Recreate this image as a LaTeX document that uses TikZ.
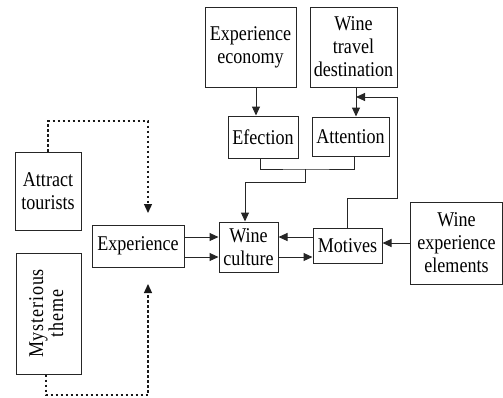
\documentclass[tikz,border=0pt]{standalone}
\usepackage{fontspec}
\setmainfont{Liberation Serif}[FakeStretch=0.86]
\usetikzlibrary{arrows.meta,calc}
\begin{document}
\begin{tikzpicture}[x=1pt,y=-1pt,
  box/.style={draw=black!85,line width=1pt,inner sep=0pt,align=center,
    font=\fontsize{21}{23}\selectfont},
  arr/.style={draw=black!85,line width=1pt,-{Triangle[length=9pt,width=8pt]}},
  ln/.style={draw=black!85,line width=1pt},
  dotl/.style={draw=black!90,line width=1.3pt,dash pattern=on 2.5pt off 2.5pt,
    -{Triangle[length=9pt,width=8pt]}}]
\useasboundingbox (0,0) rectangle (503,397);
\node[box,minimum width=91,minimum height=80] (ee) at (250.5,47) {Experience\\economy};
\node[box,minimum width=87,minimum height=80] (wtd) at (353.5,47) {Wine\\travel\\destination};
\node[box,minimum width=70,minimum height=42] (ef) at (263,137) {Efection};
\node[box,minimum width=77,minimum height=39] (att) at (350.5,136.5) {Attention};
\node[box,minimum width=66,minimum height=78] (at) at (48,191) {Attract\\tourists};
\node[box,minimum width=65,minimum height=121] (mt) at (48.5,313.5) {\rotatebox{90}{\addfontfeature{LetterSpace=4}\begin{tabular}{@{}c@{}}Mysterious\\[-3pt]theme\end{tabular}}};
\node[box,minimum width=92,minimum height=42] (ex) at (138,246) {Experience};
\node[box,minimum width=59,minimum height=50] (wc) at (248.5,247) {Wine\\culture};
\node[box,minimum width=69,minimum height=35] (mo) at (347.5,245.5) {Motives};
\node[box,minimum width=92,minimum height=82] (wee) at (456.5,243) {Wine\\experience\\elements};
% top arrows
\draw[arr] ([xshift=5.5pt]ee.south) -- ([xshift=5.5pt]ee.south |- ef.north);
\coordinate (ax) at (356,87);
\draw[arr] (ax) -- (ax |- att.north);
% feedback from motives
\coordinate (fb1) at (397,198);
\coordinate (fb2) at (397,97);
\draw[arr] (mo.north) |- (fb1) -- (fb2) -- (fb2 -| ax);
% merge
\draw[ln] ([xshift=-3pt]ef.south) |- (305,169) -| ([xshift=3.5pt]att.south);
\coordinate (m) at (305,169);
\draw[arr] (m) -- (305,182) -| ([xshift=-3.5pt]wc.north);
% middle row
\draw[arr] ([yshift=9pt]ex.east) -- ([yshift=9pt]ex.east -| wc.west);
\draw[arr] ([yshift=-11pt]ex.east) -- ([yshift=-11pt]ex.east -| wc.west);
\draw[arr] ([yshift=8.5pt]mo.west) -- ([yshift=8.5pt]mo.west -| wc.east);
\draw[arr] ([yshift=-10pt]wc.east) -- ([yshift=-10pt]wc.east -| mo.west);
\draw[arr] (wee.west) -- (wee.west -| mo.east);
% dotted
\coordinate (d1) at (148,121);
\coordinate (d2) at (148,213);
\draw[dotl] (at.north) |- (d1) -- (d2);
\coordinate (d3) at (148,395);
\coordinate (d4) at (148,284);
\draw[dotl] ([xshift=-2.5pt]mt.south) |- (d3) -- (d4);
\end{tikzpicture}
\end{document}
